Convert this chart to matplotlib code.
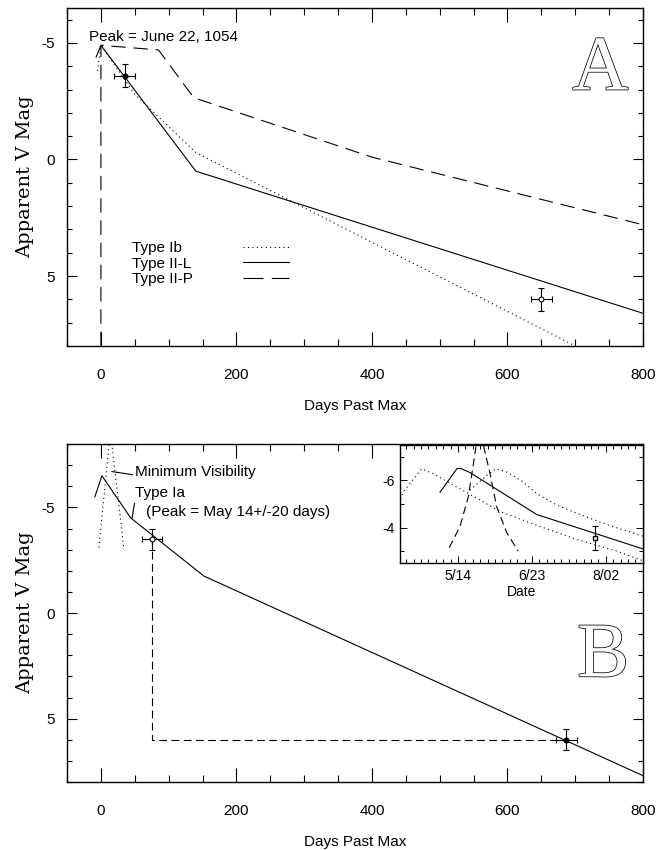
import numpy as np
import matplotlib.pyplot as plt
import matplotlib.patheffects as pe
from matplotlib.ticker import MultipleLocator, FixedLocator, FixedFormatter
from matplotlib.lines import Line2D

plt.rcParams['font.family'] = ['Liberation Sans', 'DejaVu Sans']
plt.rcParams['axes.unicode_minus'] = False

# ---- Panel A: light curve templates (days past max, apparent V mag)
ib_days = [-5, 0, 50, 140, 700]
ib_mag = [-3.8, -4.9, -2.8, -0.3, 8.0]
iil_days = [-7, 0, 140, 800]
iil_mag = [-4.4, -4.9, 0.5, 6.6]
iip_days = [0, 0, 85, 137, 400, 800]
iip_mag = [8.0, -4.9, -4.7, -2.65, -0.1, 2.8]

obs_a_days = [35, 650]
obs_a_mag = [-3.6, 6.0]
obs_a_xerr = [16, 15]
obs_a_yerr = [0.5, 0.5]
obs_a_fill = ['black', 'white']

# ---- Panel B: Type Ia template and minimum visibility
ia_days = [-9, 1.5, 44, 152, 800]
ia_mag = [-5.5, -6.5, -4.5, -1.75, 7.7]
vis_days = [-3, 14, 34]
vis_mag = [-3.1, -8.6, -3.0]

obs_b_days = [75, 687]
obs_b_mag = [-3.5, 6.0]
obs_b_xerr = [15, 15]
obs_b_yerr = [0.5, 0.5]
obs_b_fill = ['white', 'black']

# ---- Inset (days relative to May 14)
ins_ia_days = [-9.7, -0.5, 1.6, 6.5, 42.7, 100]
ins_ia_mag = [-5.5, -6.5, -6.5, -6.33, -4.55, -3.1]
ins_early_days = [-31, -29.6, -19.6, -13.3, -0.7, 11.9, 22.7, 44.3, 64.2, 85.8, 100]
ins_early_mag = [-5.2, -5.51, -6.49, -6.28, -5.72, -5.17, -4.68, -4.05, -3.5, -3.01, -2.6]
ins_late_days = [6.5, 14.5, 20.5, 26.5, 35.3, 42.5, 53.3, 64.2, 80.4, 100]
ins_late_mag = [-5.58, -6.14, -6.49, -6.35, -5.93, -5.44, -4.96, -4.61, -4.13, -3.64]
ins_vis_days = [-4.7, 1.1, 5.6, 9.7, 12, 14, 17.3, 20.9, 26.3, 32.6]
ins_vis_mag = [-3.15, -4.05, -5.3, -7.4, -8.3, -7.4, -6.3, -4.9, -3.8, -3.0]
ins_obs_day = [74]
ins_obs_mag = [-3.55]
ins_obs_yerr = [0.5]
ins_tick_days = [0, 40, 80]
ins_tick_labels = ['5/14', '6/23', '8/02']

legend_labels = ['Type Ib', 'Type II-L', 'Type II-P']

DOT = (0, (1, 3))
LONGDASH = (0, (13, 7))
DASH = (0, (7, 4))
LW = 0.8
OUTLINE = [pe.Stroke(linewidth=1.1, foreground='black'), pe.Normal()]


def style_main(ax, ylim):
    ax.set_xlim(-50, 800)
    ax.set_ylim(*ylim)
    ax.xaxis.set_major_locator(MultipleLocator(200))
    ax.xaxis.set_minor_locator(MultipleLocator(50))
    ax.yaxis.set_major_locator(MultipleLocator(5))
    ax.yaxis.set_minor_locator(MultipleLocator(1))
    ax.tick_params(which='both', direction='in', top=True, right=True,
                   labelsize=11, width=0.8)
    ax.tick_params(axis='x', which='major', length=10, pad=16)
    ax.tick_params(axis='x', which='minor', length=5)
    ax.tick_params(axis='y', which='major', length=7, pad=9)
    ax.tick_params(axis='y', which='minor', length=3.5)
    for s in ax.spines.values():
        s.set_linewidth(1.0)
    ax.set_xlabel('Days Past Max', fontsize=11, labelpad=12)
    ax.set_ylabel('Apparent V Mag', family='DejaVu Serif', fontsize=14,
                  labelpad=5)


def points(ax, days, mags, xerr, yerr, fills):
    for d, m, xe, ye, fc in zip(days, mags, xerr, yerr, fills):
        ax.errorbar([d], [m], xerr=[xe], yerr=[ye], fmt='o', ms=3.5,
                    mfc=fc, mec='black', mew=0.8, ecolor='black',
                    elinewidth=0.8, capsize=2.5, capthick=0.8)


def panel_letter(ax, x, y, letter):
    ax.text(x, y, letter, family=['Liberation Serif', 'DejaVu Serif'],
            fontsize=56, color='white', ha='center', va='baseline',
            path_effects=OUTLINE)


fig = plt.figure(figsize=(6.71, 8.5), dpi=100)
ax_a = fig.add_axes([0.0999, 0.593, 0.8584, 0.3976])
ax_b = fig.add_axes([0.0999, 0.080, 0.8584, 0.3976])
ax_in = fig.add_axes([0.596, 0.3376, 0.362, 0.139])

# ---------------- Panel A
style_main(ax_a, (8, -6.5))
ax_a.plot(ib_days, ib_mag, color='black', lw=LW, ls=DOT)
ax_a.plot(iil_days, iil_mag, color='black', lw=LW)
ax_a.plot(iip_days, iip_mag, color='black', lw=LW, ls=LONGDASH)
points(ax_a, obs_a_days, obs_a_mag, obs_a_xerr, obs_a_yerr, obs_a_fill)
ax_a.text(-18, -5.1, 'Peak = June 22, 1054', fontsize=11, va='baseline')
panel_letter(ax_a, 737, -3.0, 'A')

# legend: labels left-aligned, line samples aligned to the right of them
text_handles = [Line2D([], [], lw=0) for _ in legend_labels]
leg_txt = ax_a.legend(text_handles, legend_labels, loc='upper left',
                      bbox_to_anchor=(0.112, 0.31), frameon=False,
                      handlelength=0, handletextpad=0, borderpad=0,
                      borderaxespad=0, labelspacing=0.1, fontsize=11)
ax_a.add_artist(leg_txt)
line_handles = [Line2D([], [], color='black', lw=LW, ls=DOT),
                Line2D([], [], color='black', lw=LW),
                Line2D([], [], color='black', lw=LW, ls=(0, (18, 7.5)))]
ax_a.legend(line_handles, ['', '', ''], loc='upper left',
            bbox_to_anchor=(0.3056, 0.31), frameon=False,
            handlelength=3.0, handletextpad=0, borderpad=0,
            borderaxespad=0, labelspacing=0.1, fontsize=11)

# ---------------- Panel B
style_main(ax_b, (8, -8))
ax_b.plot(ia_days, ia_mag, color='black', lw=LW)
ax_b.plot(vis_days, vis_mag, color='black', lw=LW, ls=DOT)
ax_b.plot([obs_b_days[0], obs_b_days[0], obs_b_days[1]],
          [obs_b_mag[0], obs_b_mag[1], obs_b_mag[1]],
          color='black', lw=LW, ls=DASH)
points(ax_b, obs_b_days, obs_b_mag, obs_b_xerr, obs_b_yerr, obs_b_fill)
ax_b.annotate('Minimum Visibility', xy=(16, -6.7), xytext=(51, -6.47),
              fontsize=11, va='baseline',
              arrowprops=dict(arrowstyle='-', lw=0.8, color='black',
                              shrinkA=0, shrinkB=0, relpos=(0, 0.3)))
ax_b.annotate('Type Ia', xy=(46, -4.5), xytext=(51, -5.47),
              fontsize=11, va='baseline',
              arrowprops=dict(arrowstyle='-', lw=0.8, color='black',
                              shrinkA=0, shrinkB=0, relpos=(0, 0.2)))
ax_b.text(66, -4.57, '(Peak = May 14+/-20 days)', fontsize=11, va='baseline')
panel_letter(ax_b, 741, 3.0, 'B')

# ---------------- Inset
ax_in.set_facecolor('white')
ax_in.plot(ins_ia_days, ins_ia_mag, color='black', lw=LW)
ax_in.plot(ins_early_days, ins_early_mag, color='black', lw=LW, ls=DOT)
ax_in.plot(ins_late_days, ins_late_mag, color='black', lw=LW, ls=DOT)
ax_in.plot(ins_vis_days, ins_vis_mag, color='black', lw=LW, ls=DASH)
ax_in.errorbar(ins_obs_day, ins_obs_mag, yerr=ins_obs_yerr, fmt='s', ms=3,
               mfc='white', mec='black', ecolor='black', elinewidth=0.8,
               capsize=2, capthick=0.8)
ax_in.set_xlim(-31.4, 100)
ax_in.set_ylim(-2.5, -7.5)
ax_in.xaxis.set_major_locator(FixedLocator(ins_tick_days))
ax_in.xaxis.set_major_formatter(FixedFormatter(ins_tick_labels))
ax_in.xaxis.set_minor_locator(MultipleLocator(4))
ax_in.yaxis.set_major_locator(MultipleLocator(2))
ax_in.yaxis.set_minor_locator(MultipleLocator(1))
ax_in.tick_params(which='both', direction='in', top=True, right=True,
                  labelsize=10, width=0.7)
ax_in.tick_params(which='major', length=5, pad=4)
ax_in.tick_params(which='minor', length=3)
ax_in.set_xlabel('Date', fontsize=10, labelpad=2)
for s in ax_in.spines.values():
    s.set_linewidth(1.0)

fig.savefig('out.png', dpi=100)
